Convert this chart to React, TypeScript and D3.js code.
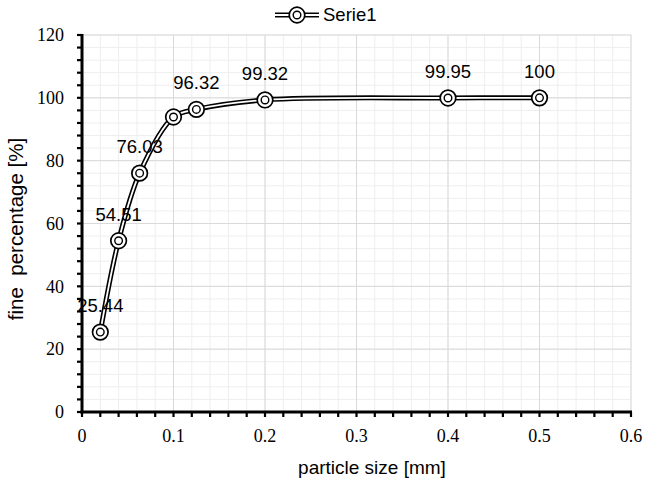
import React from "react";
import * as d3 from "d3";

const particleSize = [0.02, 0.04, 0.063, 0.1, 0.125, 0.2, 0.4, 0.5];
const finePercent = [25.44, 54.51, 76.03, 93.9, 96.32, 99.32, 99.95, 100];
const pointLabels = ["25.44", "54.51", "76.03", "", "96.32", "99.32", "99.95", "100"];
const xTicks = [0, 0.1, 0.2, 0.3, 0.4, 0.5, 0.6];
const yTicks = [0, 20, 40, 60, 80, 100, 120];
const seriesName = "Serie1";

const W = 645, H = 480;
const M = { left: 82, right: 14, top: 35, bottom: 68 };

export default function App() {
  const x = d3.scaleLinear().domain([0, 0.6]).range([M.left, W - M.right]);
  const y = d3.scaleLinear().domain([0, 120]).range([H - M.bottom, M.top]);
  const xMinor = d3.range(0, 0.6001, 0.02);
  const yMinor = d3.range(0, 120.001, 4);
  const pts: [number, number][] = particleSize.map((v, i) => [x(v), y(finePercent[i])]);
  const line = d3.line().curve(d3.curveCatmullRom.alpha(0.5))(pts) || "";
  const serif = "'Liberation Serif', 'DejaVu Serif', serif";
  const sans = "'Liberation Sans', Arial, sans-serif";
  const x0 = x(0), y0 = y(0);

  const marker = (cx: number, cy: number, k: string | number) => (
    <g key={k}>
      <circle cx={cx} cy={cy} r={7.8} fill="white" stroke="black" strokeWidth={1.7} />
      <circle cx={cx} cy={cy} r={3.8} fill="none" stroke="black" strokeWidth={1.4} />
    </g>
  );

  return (
    <svg width={W} height={H} style={{ position: "absolute", left: 0, top: 0, background: "white" }}>
      <rect width={W} height={H} fill="white" />
      {xMinor.map((v, i) => (
        <line key={"xm" + i} x1={x(v)} x2={x(v)} y1={y(0)} y2={y(120)} stroke="#eeeeee" strokeWidth={1} />
      ))}
      {yMinor.map((v, i) => (
        <line key={"ym" + i} x1={x(0)} x2={x(0.6)} y1={y(v)} y2={y(v)} stroke="#eeeeee" strokeWidth={1} />
      ))}
      {xTicks.map((v, i) => (
        <line key={"xg" + i} x1={x(v)} x2={x(v)} y1={y(0)} y2={y(120)} stroke="#d9d9d9" strokeWidth={1} />
      ))}
      {yTicks.map((v, i) => (
        <line key={"yg" + i} x1={x(0)} x2={x(0.6)} y1={y(v)} y2={y(v)} stroke="#d9d9d9" strokeWidth={1} />
      ))}
      <line x1={x0} x2={x0} y1={y(120) - 1} y2={y0 + 1.5} stroke="black" strokeWidth={3} />
      <line x1={x0 - 1.5} x2={x(0.6) + 1} y1={y0} y2={y0} stroke="black" strokeWidth={3} />
      {yMinor.map((v, i) => (
        <line key={"yt" + i} x1={x0 - 5} x2={x0} y1={y(v)} y2={y(v)} stroke="black" strokeWidth={2.2} />
      ))}
      {xMinor.map((v, i) => (
        <line key={"xt" + i} x1={x(v)} x2={x(v)} y1={y0} y2={y0 + 5} stroke="black" strokeWidth={2.2} />
      ))}
      {yTicks.map((v, i) => (
        <text key={"yl" + i} x={x0 - 18} y={y(v)} dy="0.35em" textAnchor="end" fontFamily={serif} fontSize={18}>
          {v}
        </text>
      ))}
      {xTicks.map((v, i) => (
        <text key={"xl" + i} x={x(v)} y={y0 + 30} textAnchor="middle" fontFamily={serif} fontSize={18}>
          {v}
        </text>
      ))}
      <path d={line} fill="none" stroke="black" strokeWidth={5} />
      <path d={line} fill="none" stroke="white" strokeWidth={1.8} />
      {pts.map((p, i) => marker(p[0], p[1], i))}
      {pts.map((p, i) =>
        pointLabels[i] ? (
          <text key={"pl" + i} x={p[0]} y={p[1] - 20} textAnchor="middle" fontFamily={sans} fontSize={18.5}>
            {pointLabels[i]}
          </text>
        ) : null
      )}
      <g>
        <line x1={275} x2={319} y1={15} y2={15} stroke="black" strokeWidth={5} />
        <line x1={275} x2={319} y1={15} y2={15} stroke="white" strokeWidth={1.8} />
        {marker(297, 15, "leg")}
        <text x={323} y={15} dy="0.35em" fontFamily={sans} fontSize={18.5}>{seriesName}</text>
      </g>
      <text x={372} y={474} textAnchor="middle" fontFamily={sans} fontSize={19}>
        particle size [mm]
      </text>
      <text transform={`translate(23,229) rotate(-90)`} textAnchor="middle" fontFamily={sans} fontSize={20.5} style={{ whiteSpace: "pre" }}>
        {"fine  percentage [%]"}
      </text>
    </svg>
  );
}
